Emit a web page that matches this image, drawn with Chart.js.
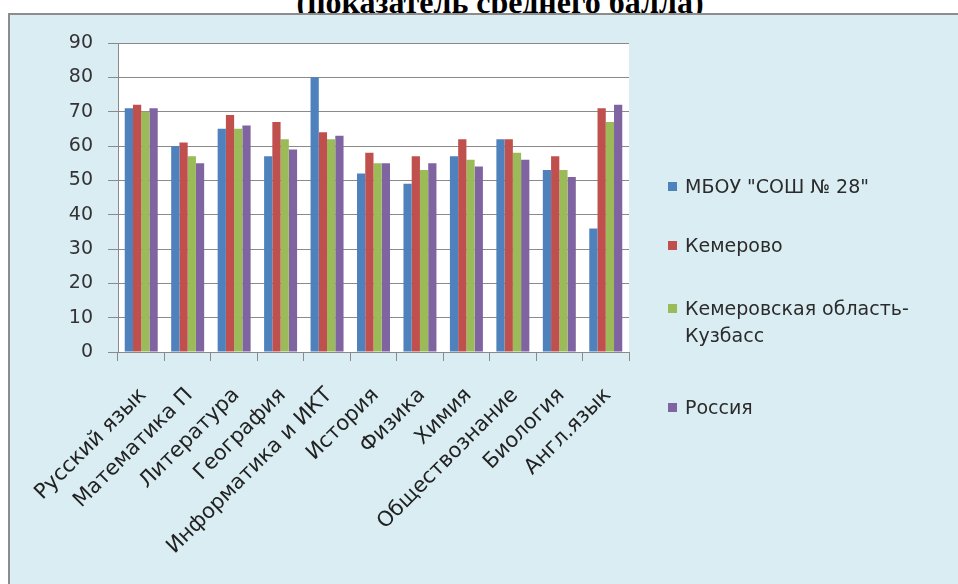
<!DOCTYPE html>
<html>
<head>
<meta charset="utf-8">
<script src="https://cdn.jsdelivr.net/npm/chart.js@4.4.1/dist/chart.umd.min.js"></script>
<style>
  html, body { margin: 0; padding: 0; background: #ffffff; overflow: hidden; }
  #page { position: relative; width: 958px; height: 584px; overflow: hidden; }
  #title {
    position: absolute; left: 0; width: 1000px; top: -14px;
    text-align: center; font: bold 32px "Liberation Serif", serif; line-height: 32px; color: #000;
  }
  #box {
    position: absolute; left: 8px; top: 13px; right: 0; bottom: 0;
    background: #daedf3; border-top: 2px solid #8c8c8c; border-left: 2px solid #8c8c8c;
  }
  #chart { position: absolute; left: 0; top: 0; }
  .leg { position: absolute; left: 668px; font: 19px "DejaVu Sans", sans-serif; color: #2b2b2b; line-height: 27px; }
  .leg span { position: absolute; left: 0; top: 9px; width: 9px; height: 9px; }
  .leg div { margin-left: 17px; white-space: nowrap; }
</style>
</head>
<body>
<div id="page">
  <div id="title">(показатель среднего балла)</div>
  <div id="box"></div>
  <canvas id="chart" width="958" height="584"></canvas>
  <div id="legend"></div>
</div>
<script>
  //data
  var subjects = ['Русский язык', 'Математика П', 'Литература', 'География', 'Информатика и ИКТ',
    'История', 'Физика', 'Химия', 'Обществознание', 'Биология', 'Англ.язык'];
  var seriesNames = ['МБОУ "СОШ № 28"', 'Кемерово', 'Кемеровская область-\nКузбасс', 'Россия'];
  var school = [71, 60, 65, 57, 80, 52, 49, 57, 62, 53, 36];
  var kemerovo = [72, 61, 69, 67, 64, 58, 57, 62, 62, 57, 71];
  var kuzbass = [70, 57, 65, 62, 62, 55, 53, 56, 58, 53, 67];
  var russia = [71, 55, 66, 59, 63, 55, 55, 54, 56, 51, 72];
  var yTicks = [0, 10, 20, 30, 40, 50, 60, 70, 80, 90];

  var colors = ['#4f81bd', '#c0504d', '#9bbb59', '#8064a2'];
  var values = [school, kemerovo, kuzbass, russia];
  var legendTops = [173, 232, 295, 394];

  var datasets = [];
  for (var i = 0; i < values.length; i++) {
    datasets.push({
      label: seriesNames[i],
      data: values[i],
      backgroundColor: colors[i],
      categoryPercentage: 0.71,
      barPercentage: 1
    });
  }

  // legend on the right, like the original
  var legend = document.getElementById('legend');
  for (i = 0; i < seriesNames.length; i++) {
    var item = document.createElement('div');
    item.className = 'leg';
    item.style.top = legendTops[i] + 'px';
    item.innerHTML = '<span style="background:' + colors[i] + '"></span><div>' +
      seriesNames[i].replace('\n', '<br>') + '</div>';
    legend.appendChild(item);
  }

  var whiteArea = {
    id: 'whiteArea',
    beforeDraw: function (chart) {
      var a = chart.chartArea;
      chart.ctx.save();
      chart.ctx.fillStyle = '#ffffff';
      chart.ctx.fillRect(a.left, a.top, a.right - a.left, a.bottom - a.top);
      chart.ctx.restore();
    }
  };

  var ctx = document.getElementById('chart').getContext('2d');
  var myChart = new Chart(ctx, {
    type: 'bar',
    data: { labels: subjects, datasets: datasets },
    plugins: [whiteArea],
    options: {
      responsive: false,
      animation: false,
      layout: { padding: { left: 0, top: 43, right: 329, bottom: 0 } },
      plugins: { legend: { display: false }, tooltip: { enabled: false } },
      scales: {
        y: {
          min: 0, max: 90,
          afterBuildTicks: function (scale) {
            scale.ticks = yTicks.map(function (v) { return { value: v }; });
          },
          afterFit: function (scale) { scale.width = 118; },
          ticks: { padding: 15, color: '#333333', font: { family: 'DejaVu Sans', size: 19 } },
          grid: { color: '#8a8a8a', tickLength: 10 },
          border: { color: '#8a8a8a' }
        },
        x: {
          afterFit: function (scale) { scale.height = 232; },
          ticks: {
            minRotation: 45, maxRotation: 45, autoSkip: false, padding: 22, labelOffset: 2,
            color: '#222222', font: { family: 'DejaVu Sans', size: 21 }
          },
          grid: { drawOnChartArea: false, color: '#8a8a8a', tickLength: 9 },
          border: { color: '#8a8a8a' }
        }
      }
    }
  });
</script>
</body>
</html>
